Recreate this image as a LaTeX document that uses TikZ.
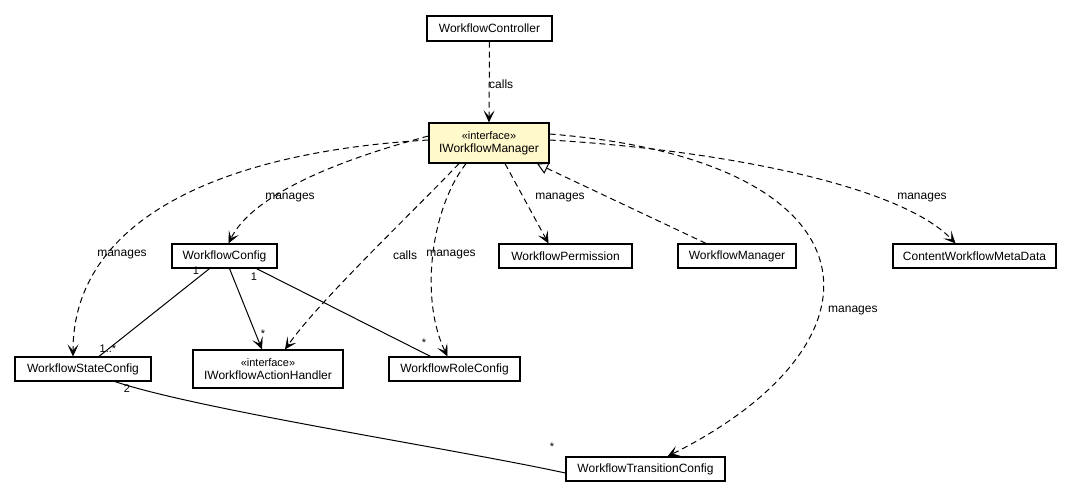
\documentclass[tikz,border=0pt]{standalone}
\usepackage{fontspec}
\setmainfont{Liberation Sans}
\usetikzlibrary{arrows.meta}
\definecolor{ifill}{RGB}{255,249,204}
\tikzset{
  cls/.style={draw=black, line width=1.2pt, fill=white, inner sep=0pt, font=\fontsize{12}{14}\selectfont, align=center},
  tip/.style={-{Stealth[length=12pt,width=11pt,inset=6pt,line width=0.6pt]}},
  dep/.style={draw=black, line width=1pt, dash pattern=on 6pt off 4pt, tip},
  real/.style={draw=black, line width=1pt, dash pattern=on 6pt off 4pt, -{Triangle[open,length=11pt,width=12pt,fill=white]}},
  assoc/.style={draw=black, line width=1pt},
  nav/.style={draw=black, line width=1pt, tip},
  lbl/.style={font=\fontsize{12}{14}\selectfont, inner sep=0pt},
  mult/.style={font=\fontsize{11}{13}\selectfont, inner sep=0pt}
}
\begin{document}
\begin{tikzpicture}[x=1pt,y=-1pt]
\useasboundingbox (0,0) rectangle (1072,499);
\node[cls, minimum width=125pt, minimum height=25pt] (wc) at (489.5,28.5) {WorkflowController};
\node[cls, fill=ifill, minimum width=120pt, minimum height=40pt] (iwm) at (489,143) {\fontsize{11}{13}\selectfont «interface»\\[-1pt]IWorkflowManager};
\node[cls, minimum width=105pt, minimum height=24pt] (cfg) at (224.5,256) {WorkflowConfig};
\node[cls, minimum width=133pt, minimum height=24pt] (perm) at (565.5,256) {WorkflowPermission};
\node[cls, minimum width=118pt, minimum height=24pt] (mgr) at (737,256) {WorkflowManager};
\node[cls, minimum width=163pt, minimum height=24pt] (meta) at (974.5,256) {ContentWorkflowMetaData};
\node[cls, minimum width=136pt, minimum height=24pt] (state) at (83,369) {WorkflowStateConfig};
\node[cls, minimum width=150pt, minimum height=38pt] (act) at (268,369) {\fontsize{11}{13}\selectfont «interface»\\[-1pt]IWorkflowActionHandler};
\node[cls, minimum width=131pt, minimum height=24pt] (role) at (454.5,369) {WorkflowRoleConfig};
\node[cls, minimum width=159pt, minimum height=24pt] (trans) at (645.5,469) {WorkflowTransitionConfig};

% calls
\draw[dep] (wc.south) -- (iwm.north);
\node[lbl, anchor=west] (l1) at (489,84) {calls};

% manages -> state
\draw[dep] ([yshift=3pt]iwm.west) .. controls (220,152) and (73,220) .. ([xshift=-10pt]state.north);
\node[lbl] (l2) at (122,255) {manages};
% manages -> config
\draw[dep] ([yshift=7pt]iwm.west) .. controls (320,165) and (250,200) .. ([xshift=4pt]cfg.north);
\node[lbl] (l3) at (290,198) {manages};
% calls -> action handler
\draw[dep] ([xshift=-30pt]iwm.south) .. controls (410,215) and (320,300) .. ([xshift=17pt]act.north);
\node[lbl] (l4) at (405,255) {calls};
% manages -> role
\draw[dep] ([xshift=-23pt]iwm.south) .. controls (430,210) and (420,300) .. ([xshift=-7pt]role.north);
\node[lbl] (l5) at (451,255) {manages};
% manages -> permission
\draw[dep] ([xshift=16pt]iwm.south) -- ([xshift=-17pt]perm.north);
\node[lbl] (l6) at (560,198) {manages};
% realization
\draw[real] ([xshift=-31pt]mgr.north) -- ([xshift=48pt]iwm.south);
% manages -> meta
\draw[dep] ([yshift=3pt]iwm.east) .. controls (720,150) and (900,185) .. ([xshift=-19pt]meta.north);
\node[lbl] (l7) at (922,198) {manages};
% manages -> transition
\draw[dep] ([yshift=9pt]iwm.east) .. controls (880,160) and (900,340) .. ([xshift=22pt]trans.north);
\node[lbl, anchor=west] (l8) at (828,311) {manages};

% associations
\draw[assoc] ([xshift=-15pt]cfg.south) -- ([xshift=16pt]state.north);
\node[mult] (m1) at (196,271) {1};
\node[mult] (m2) at (108,349) {1..*};
\draw[nav] ([xshift=5pt]cfg.south) -- ([xshift=-6pt]act.north);
\node[mult] (m3) at (263,334) {*};
\draw[assoc] ([xshift=32pt]cfg.south) -- ([xshift=-24pt]role.north);
\node[mult] (m4) at (254,277) {1};
\node[mult] (m5) at (424,343) {*};
\draw[assoc] ([xshift=32pt]state.south) .. controls (200,410) and (450,448) .. ([yshift=-4pt]trans.west);
\node[mult] (m6) at (127,389) {2};
\node[mult] (m7) at (552,447) {*};
\end{tikzpicture}
\end{document}
